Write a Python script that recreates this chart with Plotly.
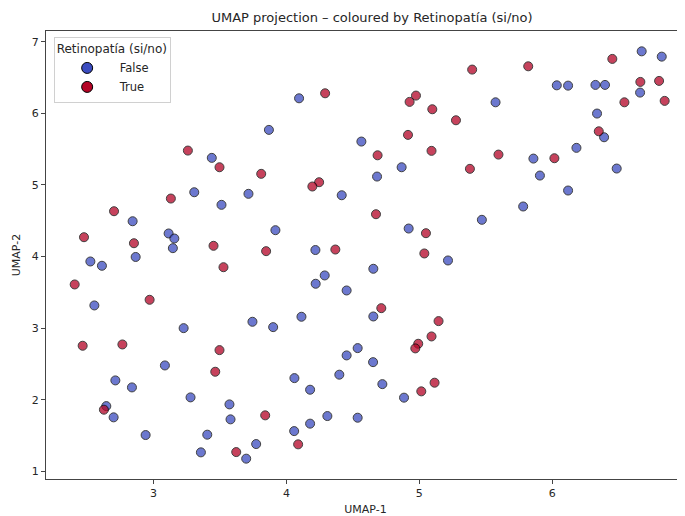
import plotly.graph_objects as go

# UMAP coordinates
false_x = [3.868, 3.438, 3.306, 3.714, 3.511, 2.842, 3.113, 3.156, 3.145, 2.865,
           2.524, 2.611, 2.554, 3.226, 3.744, 3.085, 2.712, 2.837, 3.278, 3.571,
           2.644, 2.699, 3.579, 2.940, 3.404, 3.356, 3.772, 3.697, 4.095, 4.564,
           4.867, 4.682, 4.416, 3.917, 4.920, 4.218, 5.216, 4.654, 4.288, 4.220,
           4.453, 4.654, 4.113, 3.900, 4.536, 4.453, 4.652, 4.060, 4.398, 4.178,
           4.722, 4.885, 4.308, 4.536, 4.178, 4.058, 6.674, 6.825, 6.035, 6.120,
           6.326, 6.398, 6.662, 5.574, 6.338, 6.391, 6.183, 5.859, 6.486, 5.908,
           6.120, 5.782, 5.471]
false_y = [5.769, 5.378, 4.898, 4.876, 4.722, 4.493, 4.322, 4.252, 4.117, 3.994,
           3.931, 3.871, 3.317, 3.000, 3.089, 2.479, 2.270, 2.172, 2.033, 1.935,
           1.911, 1.754, 1.726, 1.507, 1.512, 1.265, 1.381, 1.177, 6.210, 5.606,
           5.247, 5.117, 4.856, 4.368, 4.391, 4.091, 3.945, 3.829, 3.736, 3.620,
           3.526, 3.163, 3.159, 3.014, 2.721, 2.619, 2.525, 2.302, 2.350, 2.140,
           2.218, 2.029, 1.772, 1.749, 1.666, 1.562, 6.866, 6.792, 6.391, 6.387,
           6.397, 6.397, 6.290, 6.154, 5.997, 5.666, 5.518, 5.368, 5.229, 5.131,
           4.922, 4.699, 4.513]

true_x = [3.258, 3.496, 3.810, 3.130, 2.702, 2.476, 2.852, 3.451, 3.847, 3.526,
          2.406, 2.970, 2.466, 2.765, 3.496, 3.464, 2.626, 3.840, 3.622, 4.088,
          5.398, 4.291, 4.975, 4.927, 5.098, 5.276, 4.915, 5.092, 4.686, 5.381,
          4.246, 4.195, 4.674, 5.050, 4.368, 5.038, 4.714, 5.145, 5.092, 4.992,
          4.970, 5.115, 5.015, 5.820, 6.453, 6.664, 6.805, 6.544, 6.847, 6.351,
          5.596, 6.017]
true_y = [5.480, 5.247, 5.155, 4.810, 4.633, 4.270, 4.186, 4.150, 4.075, 3.851,
          3.610, 3.396, 2.754, 2.772, 2.693, 2.391, 1.861, 1.782, 1.269, 1.377,
          6.611, 6.280, 6.248, 6.160, 6.057, 5.903, 5.699, 5.476, 5.414, 5.225,
          5.038, 4.978, 4.591, 4.326, 4.098, 4.043, 3.279, 3.098, 2.884, 2.782,
          2.717, 2.238, 2.117, 6.657, 6.760, 6.439, 6.453, 6.154, 6.174, 5.749,
          5.424, 5.373]

labels = ["False", "True"]
colors = ["#3b4cc0", "#b40426"]

fig = go.Figure()
for name, xs, ys, col in [(labels[0], false_x, false_y, colors[0]),
                          (labels[1], true_x, true_y, colors[1])]:
    fig.add_trace(go.Scatter(
        x=xs, y=ys, mode="markers", name=name, showlegend=False,
        marker=dict(size=9, color=col, opacity=0.75,
                    line=dict(color="black", width=1)),
    ))
# opaque legend handles
for name, col in zip(labels, colors):
    fig.add_trace(go.Scatter(
        x=[None], y=[None], mode="markers", name=name,
        marker=dict(size=11, color=col, line=dict(color="black", width=1)),
    ))

font = "DejaVu Sans, Arial, sans-serif"
# the page body adds an 8px offset, so the figure is 8px smaller on each side
fig.update_layout(
    width=677, height=508,
    margin=dict(l=38, r=0, t=23, b=37, autoexpand=False),
    paper_bgcolor="white", plot_bgcolor="white",
    font=dict(family=font, size=11, color="#262626"),
    title=dict(text="UMAP projection – coloured by Retinopatía (si/no)",
               xref="container", x=0.5377, xanchor="center",
               yref="container", y=0.982, yanchor="middle",
               font=dict(size=13, color="#262626")),
    legend=dict(title=dict(text="Retinopatía (si/no)", side="top",
                           font=dict(size=12, color="#262626")),
                x=0.012, y=0.987, xanchor="left", yanchor="top",
                bgcolor="rgba(255,255,255,0.85)", bordercolor="#d0d0d0",
                borderwidth=1, font=dict(size=11.5), tracegroupgap=0,
                itemwidth=55),
    xaxis=dict(range=[2.19, 7.0001], dtick=1, tick0=0, showgrid=False, zeroline=False,
               showline=True, linecolor="#444", linewidth=1, mirror=True,
               ticks="outside", ticklen=4, tickcolor="#444",
               ticklabeloverflow="allow", automargin=False,
               title=dict(text="UMAP-1", standoff=6, font=dict(size=11))),
    yaxis=dict(range=[0.893, 7.15], dtick=1, tick0=0, showgrid=False, zeroline=False,
               showline=True, linecolor="#444", linewidth=1, mirror=False,
               ticks="outside", ticklen=4, tickcolor="#444", automargin=False,
               title=dict(text="UMAP-2", standoff=8, font=dict(size=11))),
)

fig.write_html("out.html")
